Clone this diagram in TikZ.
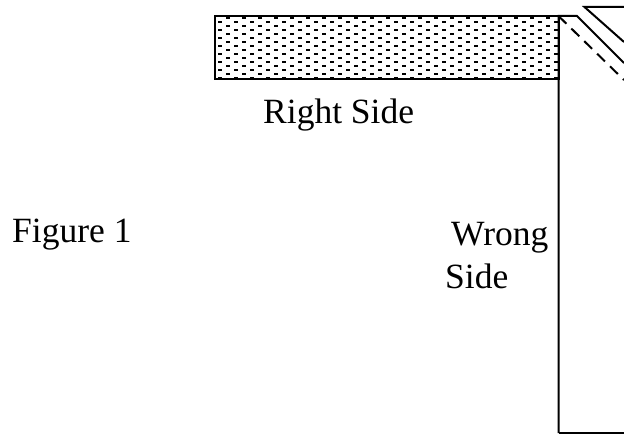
\documentclass[tikz,border=0pt]{standalone}
\usepackage{fontspec}
\setmainfont{Liberation Serif}
\tikzset{
  seam/.style = {draw, line width=2pt},
  fold/.style = {draw, line width=2pt, dash pattern=on 11pt off 7pt},
  caption/.style = {inner sep=0pt, anchor=base west, font=\fontsize{35.5}{36}\selectfont}
}
\begin{document}
\begin{tikzpicture}[x=1pt,y=1pt]
\useasboundingbox (0,0) rectangle (624,434);
\coordinate (sw) at (215,354.5);
\coordinate (ne) at (558.5,418);
\coordinate (foot) at (558.5,1);
\coordinate (footr) at (624,1);
\coordinate (top) at (577,418);
\coordinate (topr) at (624,371);
\coordinate (outer) at (584.5,427);
\coordinate (outerr) at (624,427);
\coordinate (outerd) at (624,392);
\coordinate (dashr) at (624,354);
% dotted cloth
\foreach \row in {0,...,15} {
  \pgfmathsetmacro{\off}{mod(\row+1,2)*8}
  \foreach \col in {0,...,21} {
    \pgfmathsetmacro{\px}{220+\off+16*\col}
    \pgfmathsetmacro{\py}{416.3-4*\row}
    \ifdim \px pt<557pt \fill (\px pt-1.7pt,\py pt-.9pt) rectangle +(3.4pt,1.8pt); \fi
  }
}
\draw[seam] (sw) rectangle (ne);
\draw[seam] (foot) -- (ne) -- (top) -- (topr);
\draw[seam] (foot) -- (footr);
\draw[seam] (outerr) -- (outer) -- (outerd);
\draw[fold] (ne) -- (dashr);
\node[caption] (right) at (263,310) {Right Side};
\node[caption] (fig) at (12,191) {Figure 1};
\node[caption] (wrong) at (451,188.5) {Wrong};
\node[caption] (side) at (445,145) {Side};
\end{tikzpicture}
\end{document}
